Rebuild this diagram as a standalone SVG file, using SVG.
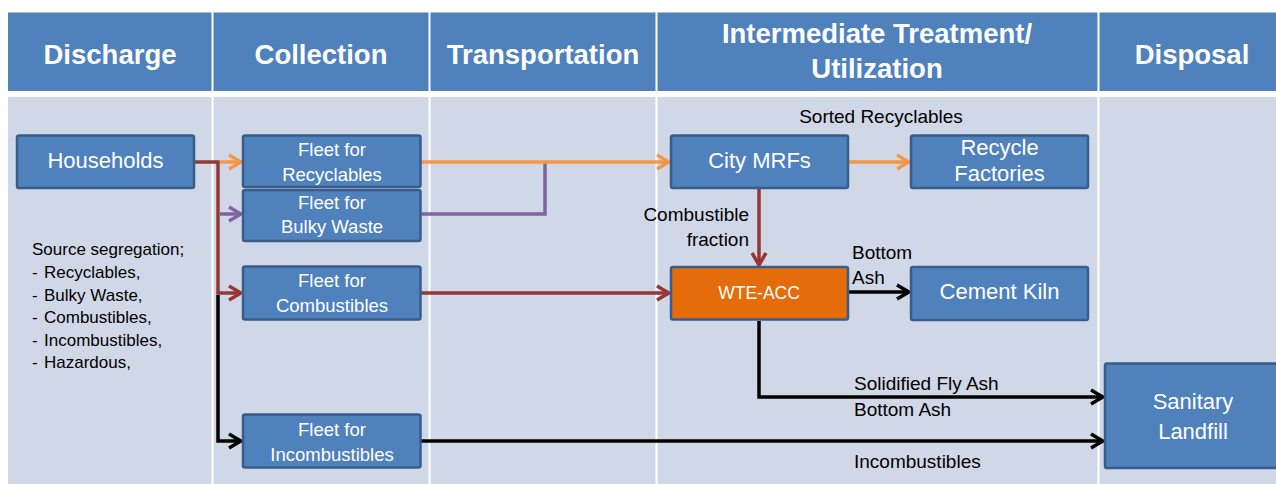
<svg xmlns="http://www.w3.org/2000/svg" width="1276" height="484" viewBox="0 0 1276 484">
  <defs>
    <style>
      .hdr { fill: #4F81BD; }
      .body { fill: #D0D8E8; }
      .div { stroke: #FFFFFF; stroke-width: 2; }
      .htxt { font-family: "Liberation Sans", Arial, sans-serif; font-weight: bold; font-size: 27.5px; fill: #FFFFFF; text-anchor: middle; }
      .box { fill: #4F81BD; stroke: #385D8A; stroke-width: 2.5; }
      .obox { fill: #E46C0A; stroke: #385D8A; stroke-width: 2.5; }
      .ntxt { font-family: "Liberation Sans", Arial, sans-serif; font-size: 22px; fill: #FFFFFF; text-anchor: middle; }
      .ftxt { font-family: "Liberation Sans", Arial, sans-serif; font-size: 18.5px; fill: #FFFFFF; text-anchor: middle; }
      .wtxt { font-family: "Liberation Sans", Arial, sans-serif; font-size: 17.5px; fill: #FFFFFF; text-anchor: middle; }
      .lbl { font-family: "Liberation Sans", Arial, sans-serif; font-size: 19px; fill: #000000; }
      .src { font-family: "Liberation Sans", Arial, sans-serif; font-size: 17px; fill: #000000; }
      .c { fill: none; stroke-width: 3.5; stroke-linejoin: miter; }
      .or { stroke: #F79646; }
      .pu { stroke: #8064A2; }
      .rd { stroke: #953735; }
      .bk { stroke: #000000; }
    </style>
    <marker id="aOr" markerUnits="userSpaceOnUse" markerWidth="16" markerHeight="18" viewBox="0 0 16 18" refX="14" refY="9" orient="auto">
      <path d="M2,2 L14,9 L2,16" fill="none" stroke="#F79646" stroke-width="3.5"/>
    </marker>
    <marker id="aPu" markerUnits="userSpaceOnUse" markerWidth="16" markerHeight="18" viewBox="0 0 16 18" refX="14" refY="9" orient="auto">
      <path d="M2,2 L14,9 L2,16" fill="none" stroke="#8064A2" stroke-width="3.5"/>
    </marker>
    <marker id="aRd" markerUnits="userSpaceOnUse" markerWidth="16" markerHeight="18" viewBox="0 0 16 18" refX="14" refY="9" orient="auto">
      <path d="M2,2 L14,9 L2,16" fill="none" stroke="#953735" stroke-width="3.5"/>
    </marker>
    <marker id="aBk" markerUnits="userSpaceOnUse" markerWidth="16" markerHeight="18" viewBox="0 0 16 18" refX="14" refY="9" orient="auto">
      <path d="M2,2 L14,9 L2,16" fill="none" stroke="#000000" stroke-width="3.5"/>
    </marker>
  </defs>

  <rect width="1276" height="484" fill="#FFFFFF"/>

  <g id="lanes">
    <rect class="hdr" x="8" y="12.5" width="1268" height="78.5"/>
    <rect class="body" x="8" y="97" width="1268" height="387"/>
    <line class="div" x1="212.5" y1="12" x2="212.5" y2="484"/>
    <line class="div" x1="429.5" y1="12" x2="429.5" y2="484"/>
    <line class="div" x1="656.5" y1="12" x2="656.5" y2="484"/>
    <line class="div" x1="1098.5" y1="12" x2="1098.5" y2="484"/>
    <text class="htxt" x="110" y="64">Discharge</text>
    <text class="htxt" x="321" y="64">Collection</text>
    <text class="htxt" x="543" y="64">Transportation</text>
    <text class="htxt" x="877" y="43">Intermediate Treatment/</text>
    <text class="htxt" x="877" y="78">Utilization</text>
    <text class="htxt" x="1192" y="64">Disposal</text>
  </g>

  <g id="connectors">
    <path class="c rd" d="M194,162 H218 V293 H241" marker-end="url(#aRd)"/>
    <path class="c bk" d="M218,295 V441 H241" marker-end="url(#aBk)"/>
    <path class="c or" d="M220,162 H241" marker-end="url(#aOr)"/>
    <path class="c pu" d="M220,214 H241" marker-end="url(#aPu)"/>
    <path class="c pu" d="M421,214 H545 V162"/>
    <path class="c or" d="M421,162 H669" marker-end="url(#aOr)"/>
    <path class="c rd" d="M421,293 H669" marker-end="url(#aRd)"/>
    <path class="c bk" d="M421,441 H1103" marker-end="url(#aBk)"/>
    <path class="c or" d="M849,162 H909" marker-end="url(#aOr)"/>
    <path class="c rd" d="M759,189 V265" marker-end="url(#aRd)"/>
    <path class="c bk" d="M849,292 H909" marker-end="url(#aBk)"/>
    <path class="c bk" d="M759,321 V397 H1103" marker-end="url(#aBk)"/>
    <text class="lbl" x="881" y="123" text-anchor="middle">Sorted Recyclables</text>
    <text class="lbl" x="749" y="221" text-anchor="end">Combustible</text>
    <text class="lbl" x="749" y="246" text-anchor="end">fraction</text>
    <text class="lbl" x="852" y="259">Bottom</text>
    <text class="lbl" x="852" y="284">Ash</text>
    <text class="lbl" x="854" y="390">Solidified Fly Ash</text>
    <text class="lbl" x="854" y="416">Bottom Ash</text>
    <text class="lbl" x="854" y="468">Incombustibles</text>
  </g>

  <g id="households">
    <rect class="box" x="17" y="135.5" width="177" height="52.5" rx="2"/>
    <text class="ntxt" x="105.5" y="168" font-size="22.5px">Households</text>
  </g>

  <g id="source-segregation">
    <text class="src" x="32" y="255">Source segregation;</text>
    <text class="src" x="32" y="278">-</text><text class="src" x="44" y="278">Recyclables,</text>
    <text class="src" x="32" y="301">-</text><text class="src" x="44" y="301">Bulky Waste,</text>
    <text class="src" x="32" y="323">-</text><text class="src" x="44" y="323">Combustibles,</text>
    <text class="src" x="32" y="346">-</text><text class="src" x="44" y="346">Incombustibles,</text>
    <text class="src" x="32" y="368">-</text><text class="src" x="44" y="368">Hazardous,</text>
  </g>

  <g id="fleet-recyclables">
    <rect class="box" x="243" y="135.5" width="177.5" height="51.5" rx="2"/>
    <text class="ftxt" x="332" y="156">Fleet for</text>
    <text class="ftxt" x="332" y="181">Recyclables</text>
  </g>

  <g id="fleet-bulky">
    <rect class="box" x="243" y="190" width="177.5" height="51" rx="2"/>
    <text class="ftxt" x="332" y="209">Fleet for</text>
    <text class="ftxt" x="332" y="233">Bulky Waste</text>
  </g>

  <g id="fleet-combustibles">
    <rect class="box" x="243" y="266.5" width="177.5" height="53" rx="2"/>
    <text class="ftxt" x="332" y="287">Fleet for</text>
    <text class="ftxt" x="332" y="311.5">Combustibles</text>
  </g>

  <g id="fleet-incombustibles">
    <rect class="box" x="243" y="414.5" width="177.5" height="53" rx="2"/>
    <text class="ftxt" x="332" y="435.5">Fleet for</text>
    <text class="ftxt" x="332" y="460.5">Incombustibles</text>
  </g>

  <g id="city-mrfs">
    <rect class="box" x="671" y="135.5" width="177" height="52.5" rx="2"/>
    <text class="ntxt" x="759.5" y="168">City MRFs</text>
  </g>

  <g id="recycle-factories">
    <rect class="box" x="911" y="135.5" width="177" height="52.5" rx="2"/>
    <text class="ntxt" x="999.5" y="155">Recycle</text>
    <text class="ntxt" x="999.5" y="181">Factories</text>
  </g>

  <g id="wte-acc">
    <rect class="obox" x="671" y="267" width="177" height="52.5" rx="2"/>
    <text class="wtxt" x="759" y="299">WTE-ACC</text>
  </g>

  <g id="cement-kiln">
    <rect class="box" x="911" y="267" width="177" height="53" rx="2"/>
    <text class="ntxt" x="999.5" y="299">Cement Kiln</text>
  </g>

  <g id="sanitary-landfill">
    <rect class="box" x="1105" y="363.5" width="177" height="104.5" rx="2"/>
    <text class="ntxt" x="1193" y="409">Sanitary</text>
    <text class="ntxt" x="1193" y="439">Landfill</text>
  </g>
</svg>
